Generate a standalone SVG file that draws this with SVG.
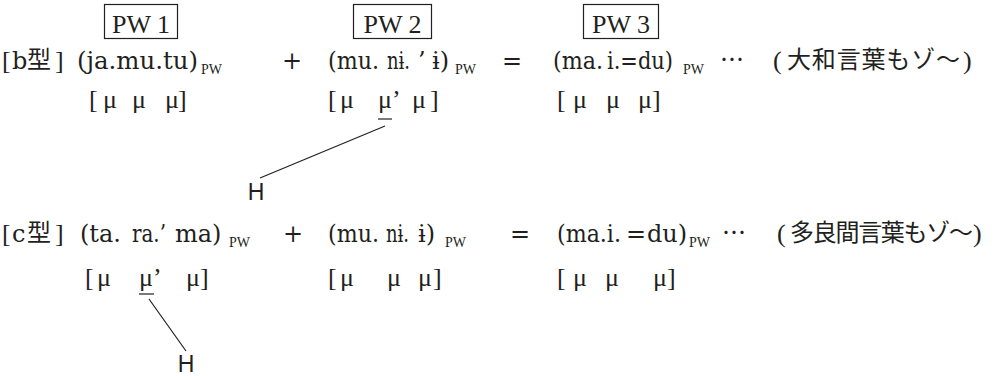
<svg xmlns="http://www.w3.org/2000/svg" width="1000" height="376" viewBox="0 0 1000 376">
<style>
.t{font-family:"DejaVu Serif","Liberation Serif",serif;font-size:24px;fill:#231f20}
.m{font-family:"Liberation Serif","DejaVu Serif",serif;font-size:26px;fill:#231f20}
.j{font-family:"Noto Sans CJK JP",sans-serif;font-size:24px;fill:#231f20}
.s{font-family:"Liberation Serif",serif;font-size:14px;fill:#231f20}
.h{font-family:"Liberation Sans",Arial,sans-serif;font-size:23px;fill:#231f20}
.box{fill:none;stroke:#231f20;stroke-width:1.2}
.ln{stroke:#231f20;stroke-width:1.2;fill:none}
.c{text-anchor:middle}
</style>
<rect width="1000" height="376" fill="#fff"/>
<g id="pw-boxes">
  <g id="pw1"><rect class="box" x="104.5" y="4.5" width="73" height="34"/><text class="m c" x="141" y="33">PW 1</text></g>
  <g id="pw2"><rect class="box" x="353.5" y="4.5" width="78" height="34"/><text class="m c" x="392.5" y="33">PW 2</text></g>
  <g id="pw3"><rect class="box" x="583.5" y="4.5" width="75" height="34"/><text class="m c" x="621" y="33">PW 3</text></g>
</g>
<g id="row-b">
  <text class="m" x="2" y="69">[</text>
  <text class="t" x="12" y="69">b</text>
  <text class="j" x="27" y="68">型</text>
  <text class="m" x="55" y="69">]</text>
  <text class="t" x="77" y="69" textLength="121" lengthAdjust="spacingAndGlyphs">(ja.mu.tu)</text>
  <text class="s" x="201" y="74">PW</text>
  <text class="t c" x="292" y="69">+</text>
  <text class="t" x="328" y="69" textLength="51" lengthAdjust="spacingAndGlyphs">(mu.</text>
  <text class="t" x="387" y="69" textLength="23" lengthAdjust="spacingAndGlyphs">nɨ.</text>
  <text class="t" x="418" y="69">’</text>
  <text class="t" x="432" y="69">ɨ)</text>
  <text class="s" x="455" y="74">PW</text>
  <text class="t c" x="512" y="69">=</text>
  <text class="t" x="553" y="69" textLength="50" lengthAdjust="spacingAndGlyphs">(ma.</text>
  <text class="t" x="607" y="69" textLength="66" lengthAdjust="spacingAndGlyphs">i.=du)</text>
  <text class="s" x="683" y="74">PW</text>
  <text class="j" x="720" y="68">…</text>
  <text class="m" x="773" y="69">(</text>
  <text class="j" x="787" y="68" textLength="173">大和言葉もゾ〜</text>
  <text class="m" x="963" y="69">)</text>
</g>
<g id="row-b-mora">
  <text class="m" x="89 103 132 165 178" y="108">[μμμ]</text>
  <text class="m" x="328 340 378 392 412 430" y="108">[μμ’μ]</text>
  <line class="ln" x1="378" y1="119" x2="392" y2="119"/>
  <text class="m" x="557 573 606 638 652" y="108">[μμμ]</text>
</g>
<g id="row-c">
  <text class="m" x="2" y="242">[</text>
  <text class="t" x="12" y="242">c</text>
  <text class="j" x="27" y="241">型</text>
  <text class="m" x="55" y="242">]</text>
  <text class="t" x="80" y="242">(ta.</text>
  <text class="t" x="132" y="242" textLength="34" lengthAdjust="spacingAndGlyphs">ra.’</text>
  <text class="t" x="175" y="242">ma)</text>
  <text class="s" x="229" y="247">PW</text>
  <text class="t c" x="293" y="242">+</text>
  <text class="t" x="328" y="242" textLength="51" lengthAdjust="spacingAndGlyphs">(mu.</text>
  <text class="t" x="386" y="242" textLength="23" lengthAdjust="spacingAndGlyphs">nɨ.</text>
  <text class="t" x="418" y="242">ɨ)</text>
  <text class="s" x="445" y="247">PW</text>
  <text class="t c" x="520" y="242">=</text>
  <text class="t" x="557" y="242" textLength="64" lengthAdjust="spacingAndGlyphs">(ma.i.</text>
  <text class="t" x="626" y="242">=</text>
  <text class="t" x="647" y="242">du)</text>
  <text class="s" x="689" y="247">PW</text>
  <text class="j" x="722" y="241">…</text>
  <text class="m" x="777" y="242">(</text>
  <text class="j" x="790" y="241" textLength="183">多良間言葉もゾ〜</text>
  <text class="m" x="973" y="242">)</text>
</g>
<g id="row-c-mora">
  <text class="m" x="85 97 139 153 186 200" y="286">[μμ’μ]</text>
  <line class="ln" x1="139" y1="294" x2="154" y2="294"/>
  <text class="m" x="328 340 387 418 433" y="286">[μμμ]</text>
  <text class="m" x="557 573 605 653 667" y="286">[μμμ]</text>
</g>
<g id="h-labels">
  <text id="h1" class="h" x="256" y="200" text-anchor="middle">H</text>
  <text id="h2" class="h" x="186" y="372" text-anchor="middle">H</text>
</g>
<g id="connectors">
  <line class="ln" x1="385" y1="126" x2="260" y2="178"/>
  <line class="ln" x1="149" y1="299" x2="186" y2="351"/>
</g>
</svg>
